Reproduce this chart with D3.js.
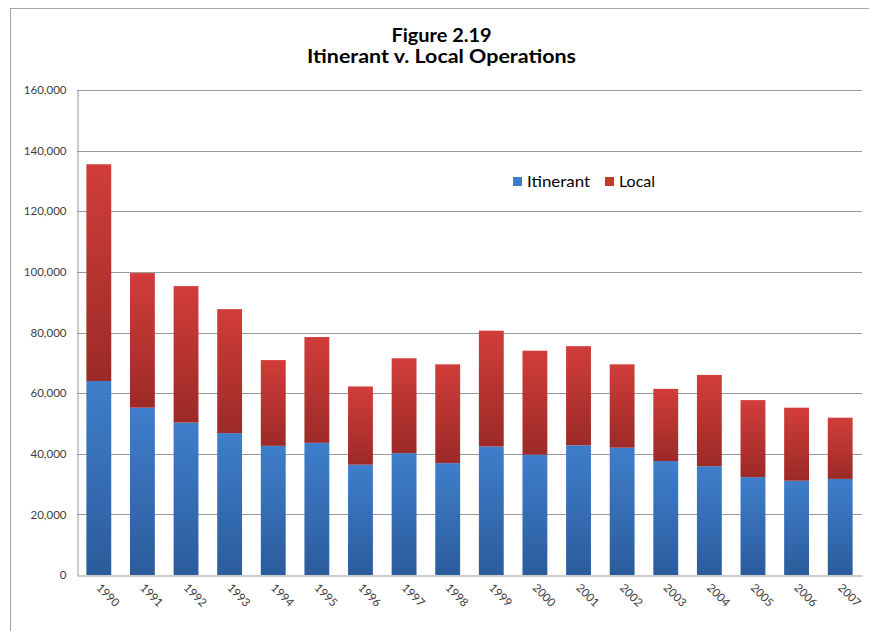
<!DOCTYPE html>
<html>
<head>
<meta charset="utf-8">
<script src="https://cdn.jsdelivr.net/npm/d3@7"></script>
<style>
  html, body { margin: 0; padding: 0; background: #fff; }
  svg { display: block; }
  text { font-family: Lato, "Open Sans", sans-serif; }
</style>
</head>
<body>
<svg id="chart" width="869" height="631"></svg>
<script>
const years = ["1990","1991","1992","1993","1994","1995","1996","1997","1998","1999","2000","2001","2002","2003","2004","2005","2006","2007"];
const itinerant = [64000, 55200, 50300, 46800, 42600, 43600, 36400, 40200, 36900, 42400, 39700, 42800, 42000, 37600, 35900, 32300, 31100, 31700];
const local = [71500, 44400, 45000, 40900, 28300, 34900, 25800, 31300, 32600, 38200, 34300, 32700, 27500, 23800, 30100, 25400, 24100, 20200];
const seriesNames = ["Itinerant", "Local"];
const yTicks = [0, 20000, 40000, 60000, 80000, 100000, 120000, 140000, 160000];
const titleLines = ["Figure 2.19", "Itinerant v. Local Operations"];

const svg = d3.select("#chart");
const W = 869, H = 631;
const plot = { left: 77, right: 862, top: 90, bottom: 575 };

// gradients
const defs = svg.append("defs");
const grads = [
  { id: "gBlue", top: "#3f7ecb", bottom: "#2b5c9c" },
  { id: "gRed", top: "#d13d3a", bottom: "#9c2a27" }
];
grads.forEach(g => {
  const lg = defs.append("linearGradient").attr("id", g.id)
    .attr("x1", 0).attr("y1", 0).attr("x2", 0).attr("y2", 1);
  lg.append("stop").attr("offset", "0%").attr("stop-color", g.top);
  lg.append("stop").attr("offset", "100%").attr("stop-color", g.bottom);
});

// outer border
svg.append("rect").attr("x", 10.5).attr("y", 8.5).attr("width", W).attr("height", H)
  .attr("fill", "none").attr("stroke", "#a6a6a6").attr("stroke-width", 1);

const x = d3.scaleBand().domain(years).range([plot.left, plot.right]).paddingInner(0.43).paddingOuter(0.215);
const y = d3.scaleLinear().domain([0, 160000]).range([plot.bottom, plot.top]);

// gridlines
svg.append("g").selectAll("line").data(yTicks.filter(d => d > 0)).join("line")
  .attr("x1", plot.left).attr("x2", plot.right)
  .attr("y1", d => Math.round(y(d)) + 0.5).attr("y2", d => Math.round(y(d)) + 0.5)
  .attr("stroke", "#999").attr("stroke-width", 1);

// y axis
const yAxis = svg.append("g").attr("transform", `translate(${plot.left + 0.5},0)`)
  .call(d3.axisLeft(y).tickValues(yTicks).tickFormat(d3.format(",")).tickSize(0).tickPadding(11));
yAxis.select(".domain").attr("stroke", "#999");
yAxis.selectAll("text").attr("font-size", "11.5px").attr("fill", "#404040")
  .attr("font-family", "Lato, sans-serif");

// stacked bars
const data = years.map((yr, i) => ({ year: yr, Itinerant: itinerant[i], Local: local[i] }));
const stack = d3.stack().keys(seriesNames)(data);
const fills = { Itinerant: "url(#gBlue)", Local: "url(#gRed)" };
svg.append("g").selectAll("g").data(stack).join("g")
  .attr("fill", d => fills[d.key])
  .selectAll("rect").data(d => d).join("rect")
  .attr("x", d => x(d.data.year))
  .attr("width", x.bandwidth())
  .attr("y", d => y(d[1]))
  .attr("height", d => y(d[0]) - y(d[1]));

// x axis
const xAxis = svg.append("g").attr("transform", `translate(0,${plot.bottom + 0.5})`)
  .call(d3.axisBottom(x).tickSize(0).tickPadding(0));
xAxis.select(".domain").attr("stroke", "#999");
xAxis.selectAll("text")
  .attr("font-size", "11.5px").attr("fill", "#404040")
  .attr("font-family", "Lato, sans-serif")
  .attr("text-anchor", "start")
  .attr("dy", null)
  .attr("y", 0)
  .attr("transform", "translate(-3,13) rotate(45)");

// title
const titleWidths = [100, 269];
svg.append("g").selectAll("text").data(titleLines).join("text")
  .attr("x", 441.5).attr("y", (d, i) => 41.7 + i * 21)
  .attr("text-anchor", "middle")
  .attr("font-size", "19px").attr("font-weight", "bold").attr("fill", "#000")
  .attr("textLength", (d, i) => titleWidths[i]).attr("lengthAdjust", "spacingAndGlyphs")
  .text(d => d);

// legend
const legendItems = [
  { name: seriesNames[0], color: "#3d7cc9", x: 513, w: 63 },
  { name: seriesNames[1], color: "#c0392b", x: 605, w: 36 }
];
const lg = svg.append("g");
legendItems.forEach(it => {
  lg.append("rect").attr("x", it.x).attr("y", 177).attr("width", 9).attr("height", 9).attr("fill", it.color);
  lg.append("text").attr("x", it.x + 14).attr("y", 187.3).attr("font-size", "15px").attr("fill", "#000")
    .attr("textLength", it.w).attr("lengthAdjust", "spacingAndGlyphs")
    .text(it.name);
});
</script>
</body>
</html>
